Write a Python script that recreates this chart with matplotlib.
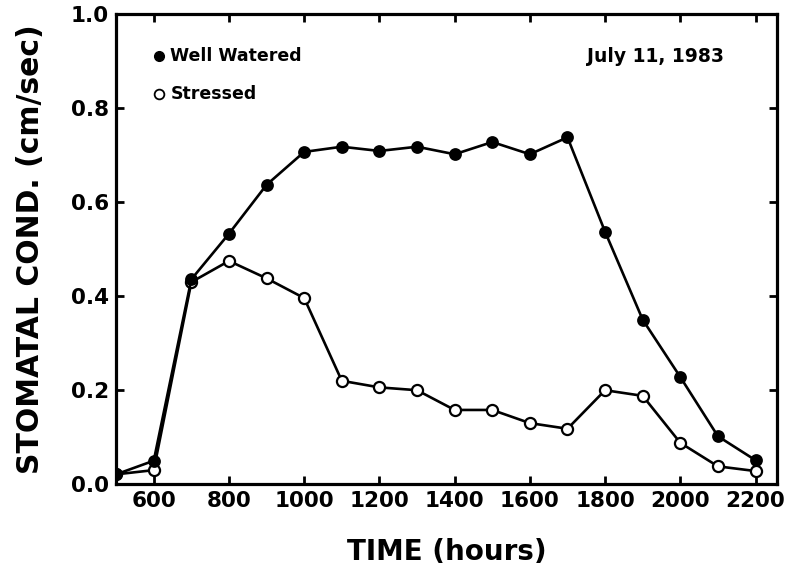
import matplotlib
matplotlib.use("Agg")
import matplotlib.pyplot as plt

hours = [500, 600, 700, 800, 900, 1000, 1100, 1200, 1300, 1400, 1500, 1600, 1700, 1800, 1900, 2000, 2100, 2200]
well_watered = [0.021, 0.050, 0.436, 0.533, 0.637, 0.707, 0.718, 0.709, 0.718, 0.702, 0.728, 0.702, 0.738, 0.537, 0.350, 0.228, 0.102, 0.051]
stressed = [0.021, 0.030, 0.430, 0.475, 0.438, 0.396, 0.220, 0.206, 0.200, 0.158, 0.158, 0.130, 0.118, 0.200, 0.188, 0.088, 0.038, 0.028]
xticks = [600, 800, 1000, 1200, 1400, 1600, 1800, 2000, 2200]
yticks = [0.0, 0.2, 0.4, 0.6, 0.8, 1.0]

plt.rcParams['font.family'] = ['DejaVu Sans']
plt.rcParams['font.weight'] = 'bold'

fig = plt.figure(figsize=(7.9, 5.67), dpi=100)
ax = fig.add_axes([0.147, 0.146, 0.837, 0.829])

ax.plot(hours, stressed, '-o', color='black', lw=1.9, ms=8, mfc='white', mec='black', mew=1.6, zorder=2)
ax.plot(hours, well_watered, '-o', color='black', lw=1.9, ms=8, mfc='black', mec='black', mew=1.2, zorder=3)

ax.set_xlim(500, 2258)
ax.set_ylim(0, 1.0)
ax.set_xticks(xticks)
ax.set_yticks(yticks)
ax.set_xticklabels([str(t) for t in xticks], fontsize=15.5, fontweight='bold')
ax.set_yticklabels([f"{t:.1f}" for t in yticks], fontsize=15.5, fontweight='bold')
ax.tick_params(direction='in', length=6, width=2, top=True, right=True, pad=5)
for s in ax.spines.values():
    s.set_linewidth(2.3)

ax.set_xlabel('TIME (hours)', fontsize=20, fontweight='bold', labelpad=19)
ax.set_ylabel('STOMATAL COND. (cm/sec)', fontsize=21.5, fontweight='bold', labelpad=19)

ax.plot([0.065], [0.91], 'o', transform=ax.transAxes, color='black', ms=7, mfc='black')
ax.text(0.082, 0.91, 'Well Watered', transform=ax.transAxes, fontsize=12.5, fontweight='bold', va='center', ha='left')
ax.plot([0.065], [0.83], 'o', transform=ax.transAxes, color='black', ms=7, mfc='white', mew=1.3)
ax.text(0.082, 0.83, 'Stressed', transform=ax.transAxes, fontsize=12.5, fontweight='bold', va='center', ha='left')
ax.text(0.92, 0.91, 'July 11, 1983', transform=ax.transAxes, fontsize=13.5, fontweight='bold', va='center', ha='right')

fig.savefig('out.png', dpi=100)
